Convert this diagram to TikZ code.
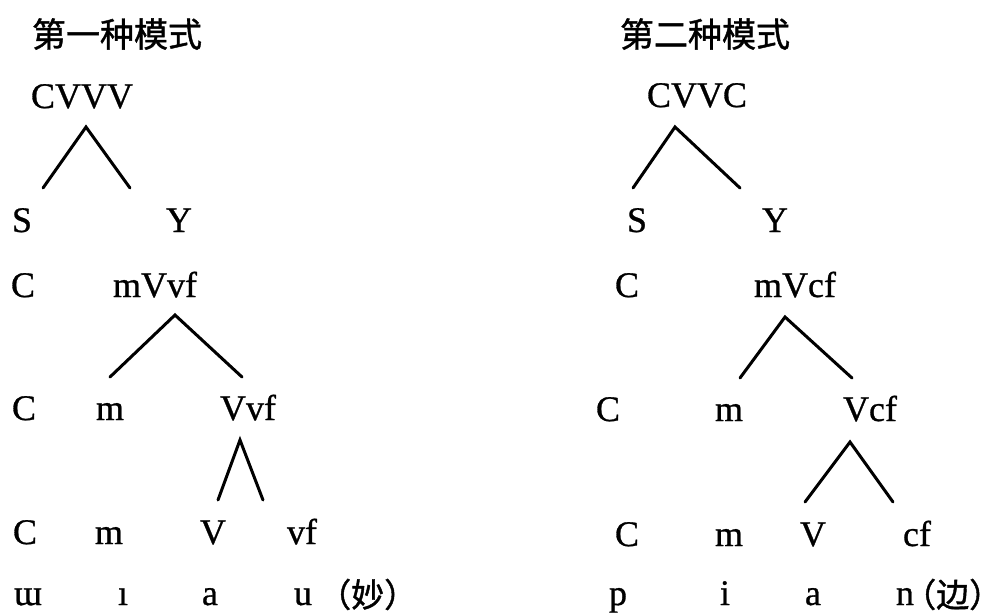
\documentclass[tikz,border=0pt]{standalone}
\usepackage{fontspec}
\setmainfont{Liberation Serif}[FakeBold=0.8]
\newfontfamily\cjk{Noto Sans CJK SC}[FakeBold=1.2]
\begin{document}
\begin{tikzpicture}[x=1pt,y=-1pt,
  lab/.style={font=\fontsize{36}{40}\selectfont, anchor=base, inner sep=0pt},
  ttl/.style={font=\cjk\fontsize{34}{38}\selectfont, anchor=base, inner sep=0pt},
  gloss/.style={font=\cjk\fontsize{33}{38}\selectfont, anchor=base west, inner sep=0pt},
  br/.style={line width=3pt, line cap=round, line join=miter}]
\useasboundingbox (0,0) rectangle (1007,613);
% ---------- left tree ----------
\node[ttl] (t1) at (117,47) {第一种模式};
\node[lab] (l0) at (82,108) {CVVV};
\node[lab] (lS) at (22,232) {S};
\node[lab] (lY) at (179,232) {Y};
\node[lab] (lC2) at (23,297) {C};
\node[lab] (lmVvf) at (155,297) {mVvf};
\node[lab] (lC3) at (24,420) {C};
\node[lab] (lm3) at (110,420) {m};
\node[lab] (lVvf) at (248,420) {Vvf};
\node[lab] (lC4) at (25,544) {C};
\node[lab] (lm4) at (109,544) {m};
\node[lab] (lV4) at (213,544) {V};
\node[lab] (lvf4) at (302,544) {vf};
\node[lab] (lb1) at (28,605) {ɯ};
\node[lab] (lb2) at (123,605) {ı};
\node[lab] (lb3) at (210,605) {a};
\node[lab] (lb4) at (303,605) {u};
\node[gloss] (lg) at (318,607) {（妙）\kern-0.5em};
\coordinate (la1) at (86,127);
\coordinate (ll1) at (43,188);
\coordinate (lr1) at (130,188);
\coordinate (la2) at (175,315);
\coordinate (ll2) at (110,377);
\coordinate (lr2) at (242,377);
\coordinate (la3) at (240,440);
\coordinate (ll3) at (218,500);
\coordinate (lr3) at (263,500);
\draw[br] (ll1) -- (la1) -- (lr1);
\draw[br] (ll2) -- (la2) -- (lr2);
\draw[br] (ll3) -- (la3) -- (lr3);
% ---------- right tree ----------
\node[ttl] (t2) at (705,47) {第二种模式};
\node[lab] (r0) at (697,107) {CVVC};
\node[lab] (rS) at (637,232) {S};
\node[lab] (rY) at (775,232) {Y};
\node[lab] (rC2) at (627,297) {C};
\node[lab] (rmVcf) at (795,297) {mVcf};
\node[lab] (rC3) at (608,421) {C};
\node[lab] (rm3) at (729,421) {m};
\node[lab] (rVcf) at (870,421) {Vcf};
\node[lab] (rC4) at (627,546) {C};
\node[lab] (rm4) at (729,546) {m};
\node[lab] (rV4) at (813,546) {V};
\node[lab] (rcf4) at (917,546) {cf};
\node[lab] (rb1) at (618,605) {p};
\node[lab] (rb2) at (725,605) {i};
\node[lab] (rb3) at (813,605) {a};
\node[lab] (rb4) at (905,605) {n};
\node[gloss] (rg) at (903,607) {（边）\kern-0.6em};
\coordinate (ra1) at (675,127);
\coordinate (rl1) at (633,188);
\coordinate (rr1) at (740,188);
\coordinate (ra2) at (785,317);
\coordinate (rl2) at (740,378);
\coordinate (rr2) at (852,378);
\coordinate (ra3) at (850,442);
\coordinate (rl3) at (805,502);
\coordinate (rr3) at (893,502);
\draw[br] (rl1) -- (ra1) -- (rr1);
\draw[br] (rl2) -- (ra2) -- (rr2);
\draw[br] (rl3) -- (ra3) -- (rr3);
\end{tikzpicture}
\end{document}
